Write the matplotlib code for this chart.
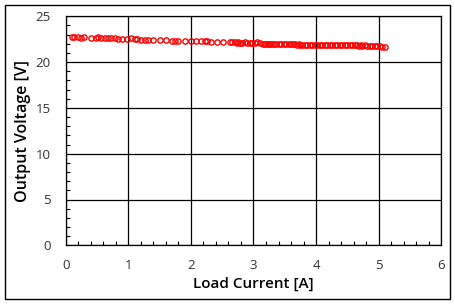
import matplotlib
matplotlib.use("Agg")
import matplotlib.pyplot as plt
from matplotlib.ticker import MultipleLocator
from matplotlib.patches import Rectangle

plt.rcParams['font.family'] = ['Open Sans', 'DejaVu Sans']

current = [0.10, 0.14, 0.20, 0.25, 0.30, 0.40, 0.48, 0.52, 0.56, 0.62, 0.68, 0.72, 0.78,
           0.84, 0.90, 0.98, 1.05, 1.10, 1.14, 1.20, 1.27, 1.32, 1.40, 1.50, 1.60, 1.70,
           1.74, 1.80, 1.90, 2.00, 2.08, 2.16, 2.22, 2.26, 2.32, 2.42, 2.52, 2.62, 2.66,
           2.70, 2.73, 2.76, 2.79, 2.82, 2.86, 2.90, 2.94, 2.98, 3.02, 3.06, 3.10, 3.15,
           3.18, 3.21, 3.24, 3.27, 3.30, 3.33, 3.36, 3.40, 3.44, 3.48, 3.52, 3.56, 3.60,
           3.63, 3.66, 3.69, 3.72, 3.75, 3.78, 3.82, 3.86, 3.90, 3.94, 3.98, 4.02, 4.06,
           4.10, 4.14, 4.18, 4.22, 4.26, 4.30, 4.34, 4.38, 4.42, 4.46, 4.50, 4.54, 4.58,
           4.62, 4.65, 4.68, 4.71, 4.74, 4.78, 4.82, 4.86, 4.90, 4.94, 4.98, 5.02, 5.06,
           5.10]
voltage = [22.75, 22.70, 22.72, 22.68, 22.70, 22.66, 22.68, 22.70, 22.62, 22.60, 22.63, 22.58, 22.60,
           22.57, 22.55, 22.55, 22.58, 22.52, 22.55, 22.45, 22.42, 22.45, 22.42, 22.42, 22.40, 22.35,
           22.30, 22.33, 22.32, 22.32, 22.30, 22.33, 22.35, 22.25, 22.22, 22.24, 22.22, 22.24, 22.20,
           22.22, 22.12, 22.15, 22.10, 22.13, 22.14, 22.12, 22.10, 22.12, 22.12, 22.15, 22.10, 22.02,
           22.00, 21.98, 22.02, 22.00, 22.00, 22.02, 21.98, 22.00, 22.02, 22.00, 22.00, 21.98, 22.02,
           22.00, 21.93, 21.92, 21.95, 21.90, 21.92, 21.90, 21.90, 21.92, 21.90, 21.92, 21.90, 21.88,
           21.90, 21.88, 21.90, 21.92, 21.90, 21.88, 21.90, 21.90, 21.88, 21.90, 21.86, 21.88, 21.84,
           21.85, 21.82, 21.80, 21.82, 21.80, 21.82, 21.78, 21.80, 21.76, 21.78, 21.75, 21.72, 21.70,
           21.68]

fig = plt.figure(figsize=(4.56, 3.05), dpi=100)
ax = fig.add_axes([65.7/456, 1-245.3/305, (441.3-65.7)/456, (245.3-16.3)/305])

ax.plot(current, voltage, linestyle="none", marker="o", markersize=3.8,
        markerfacecolor="none", markeredgecolor="#ff0000", markeredgewidth=1.0)

ax.set_xlim(0, 6)
ax.set_ylim(0, 25)
ax.xaxis.set_major_locator(MultipleLocator(1))
ax.xaxis.set_minor_locator(MultipleLocator(0.2))
ax.yaxis.set_major_locator(MultipleLocator(5))
ax.yaxis.set_minor_locator(MultipleLocator(1))
ax.grid(True, which="major", color="black", linewidth=0.9)
ax.set_axisbelow(True)
ax.tick_params(which="both", direction="in", top=False, right=False, colors="black",
               labelcolor="#333333", labelsize=9.5)
ax.tick_params(which="major", length=0)
ax.tick_params(axis="y", which="major", pad=11)
ax.tick_params(axis="x", which="major", pad=10)
ax.tick_params(which="minor", length=3, width=0.8)
for s in ax.spines.values():
    s.set_color("black")
    s.set_linewidth(0.9)

ax.set_xlabel("Load Current [A]", fontsize=11, fontweight="semibold", labelpad=3)
ax.set_ylabel("Output Voltage [V]", fontsize=11.5, fontweight="semibold", labelpad=3)

fig.patches.append(Rectangle((5.5/456, 1-299/305), (449.7-5.5)/456, (299-5)/305,
                             transform=fig.transFigure, fill=False,
                             edgecolor="black", linewidth=1.0))

fig.savefig("out.png", dpi=100)
